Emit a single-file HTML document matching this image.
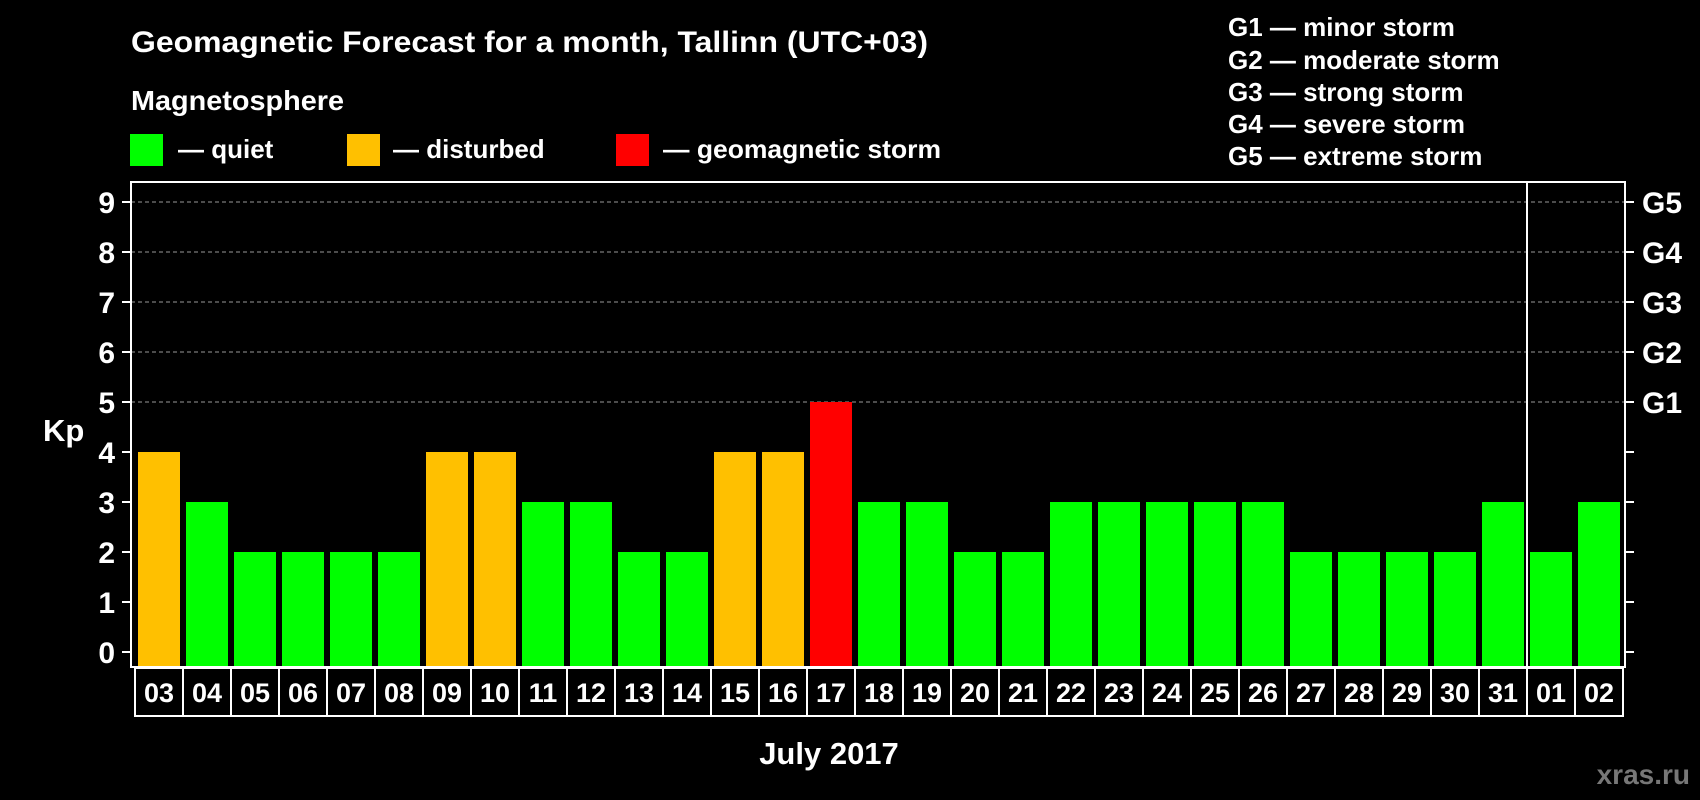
<!DOCTYPE html>
<html><head><meta charset="utf-8"><style>
html,body{margin:0;padding:0;background:#000;}
svg{display:block;font-family:"Liberation Sans",Arial,sans-serif;font-weight:bold;}
</style></head><body>
<svg id="chart" width="1700" height="800" viewBox="0 0 1700 800">
<rect x="0" y="0" width="1700" height="800" fill="#000"/>
<text x="131" y="52" fill="#fff" font-size="30" textLength="797" lengthAdjust="spacingAndGlyphs">Geomagnetic Forecast for a month, Tallinn (UTC+03)</text>
<text x="131" y="110" fill="#fff" font-size="28" textLength="213" lengthAdjust="spacingAndGlyphs">Magnetosphere</text>
<g><rect x="130" y="134" width="33" height="32" fill="#00ff00"/><text x="178" y="158" fill="#fff" font-size="26">— quiet</text></g>
<g><rect x="347" y="134" width="33" height="32" fill="#ffc000"/><text x="393" y="158" fill="#fff" font-size="26">— disturbed</text></g>
<g><rect x="616" y="134" width="33" height="32" fill="#ff0000"/><text x="663" y="158" fill="#fff" font-size="26" textLength="278" lengthAdjust="spacingAndGlyphs">— geomagnetic storm</text></g>
<g fill="#fff" font-size="26">
<text x="1228" y="36">G1 — minor storm</text>
<text x="1228" y="69">G2 — moderate storm</text>
<text x="1228" y="101">G3 — strong storm</text>
<text x="1228" y="133">G4 — severe storm</text>
<text x="1228" y="165">G5 — extreme storm</text>
</g>
<text x="43" y="441" fill="#fff" font-size="31">Kp</text>
<text x="829" y="764" fill="#fff" font-size="31" text-anchor="middle">July 2017</text>
<text x="1690" y="784" fill="#777" font-size="28" text-anchor="end">xras.ru</text>
<g id="plot"></g>
</svg>
<script>
const days = ["03","04","05","06","07","08","09","10","11","12","13","14","15","16","17","18","19","20","21","22","23","24","25","26","27","28","29","30","31","01","02"];
const kpValues = [4,3,2,2,2,2,4,4,3,3,2,2,4,4,5,3,3,2,2,3,3,3,3,3,2,2,2,2,3,2,3];
const yTicks = [0,1,2,3,4,5,6,7,8,9];
const gLabels = ["G1","G2","G3","G4","G5"];
const gLevels = [5,6,7,8,9];
const NS = "http://www.w3.org/2000/svg";
const plot = document.getElementById("plot");
const L=131,R=1625,T=182,B=667;
const y = v => 652 - v*50;
const x = i => 138 + i*48;
const bw = 42;
function mk(tag, attrs, parent){const e=document.createElementNS(NS,tag);for(const k in attrs)e.setAttribute(k,attrs[k]);(parent||plot).appendChild(e);return e;}
function color(v){return v>=5?"#ff0000":(v>=4?"#ffc000":"#00ff00");}
gLevels.forEach(v=>{const l=mk("line",{x1:L,x2:R,y1:y(v),y2:y(v),stroke:"#999","stroke-width":1,"stroke-dasharray":"4,3"});

});
kpValues.forEach((v,i)=>{const r=mk("rect",{x:x(i),y:y(v),width:bw,height:B-y(v),fill:color(v)});

});
const fr=mk("rect",{x:L,y:T,width:R-L,height:B-T,fill:"none",stroke:"#fff","stroke-width":2});


yTicks.forEach(v=>{mk("line",{x1:L-9,x2:L,y1:y(v),y2:y(v),stroke:"#fff","stroke-width":2});
mk("line",{x1:R,x2:R+9,y1:y(v),y2:y(v),stroke:"#fff","stroke-width":2});
const t=mk("text",{x:115,y:y(v)+11,fill:"#fff","font-size":30,"text-anchor":"end"});t.textContent=v;

});
gLabels.forEach((g,i)=>{const t=mk("text",{x:1642,y:y(gLevels[i])+11,fill:"#fff","font-size":30});t.textContent=g;

});
days.forEach((d,i)=>{const bx=x(i)-3;
const r=mk("rect",{x:bx,y:668,width:48,height:48,fill:"none",stroke:"#fff","stroke-width":2});


const t=mk("text",{x:bx+24,y:702,fill:"#fff","font-size":27,"text-anchor":"middle"});t.textContent=d;

});
const idx=days.indexOf("01");
const dx=x(idx)-3;
const dv=mk("line",{x1:dx,x2:dx,y1:T,y2:716,stroke:"#fff","stroke-width":2});


</script>
</body></html>
